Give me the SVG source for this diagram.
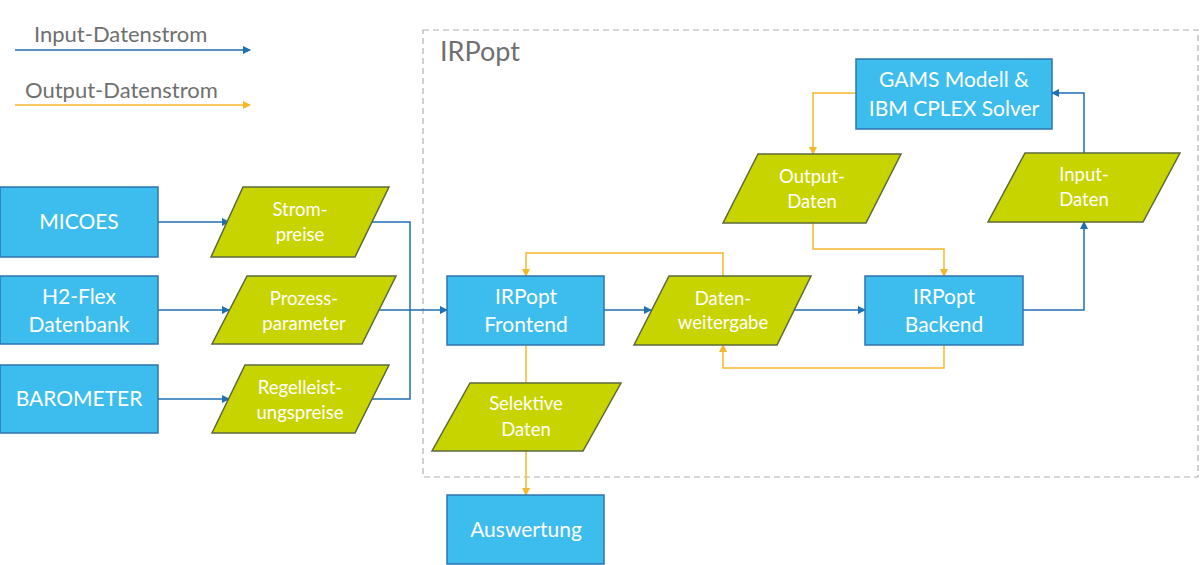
<svg xmlns="http://www.w3.org/2000/svg" width="1200" height="565" viewBox="0 0 1200 565">
<style>
text{font-family:Lato,"Noto Sans","Liberation Sans",sans-serif;text-anchor:middle}
.box{fill:#3dbdee;stroke:#2f74b0;stroke-width:1.5}
.par{fill:#c8d400;stroke:#5b6a3a;stroke-width:1.5}
.bt{fill:#ffffff;font-size:21px}
.pt{fill:#ffffff;font-size:18.5px}
.lg{fill:#707070;font-size:22px;text-anchor:start}
.in{fill:none;stroke:#1f6fb5;stroke-width:1.5;marker-end:url(#ab)}
.inn{fill:none;stroke:#1f6fb5;stroke-width:1.5}
.out{fill:none;stroke:#f6b82a;stroke-width:1.5;marker-end:url(#ao)}
.outn{fill:none;stroke:#f6b82a;stroke-width:1.5}
</style>
<defs>
<marker id="ab" markerWidth="8" markerHeight="8" refX="7" refY="4" orient="auto" markerUnits="userSpaceOnUse"><path d="M0,0 L8,4 L0,8 z" fill="#1f6fb5"/></marker>
<marker id="ao" markerWidth="8" markerHeight="8" refX="7" refY="4" orient="auto" markerUnits="userSpaceOnUse"><path d="M0,0 L8,4 L0,8 z" fill="#f6b82a"/></marker>
</defs>
<rect width="1200" height="565" fill="#ffffff"/>
<g id="legend">
<text class="lg" x="34" y="42">Input-Datenstrom</text>
<line class="in" x1="15" y1="50" x2="250" y2="50"/>
<text class="lg" x="25" y="98">Output-Datenstrom</text>
<line class="out" x1="15" y1="105" x2="250" y2="105"/>
</g>
<g id="irpopt-frame">
<rect x="423" y="30" width="775" height="447" fill="none" stroke="#b0b0b0" stroke-width="1.2" stroke-dasharray="6,4"/>
<text x="440" y="61" style="fill:#707070;font-size:27px;text-anchor:start">IRPopt</text>
</g>
<g id="connectors">
<line class="in" x1="158" y1="222" x2="229" y2="222"/>
<line class="in" x1="158" y1="310" x2="229" y2="310"/>
<line class="in" x1="158" y1="399" x2="229" y2="399"/>
<polyline class="inn" points="372,222 410,222 410,310"/>
<polyline class="inn" points="372,399 410,399 410,310"/>
<line class="in" x1="378" y1="310" x2="447" y2="310"/>
<line class="in" x1="604" y1="310" x2="651" y2="310"/>
<line class="in" x1="794" y1="310" x2="865" y2="310"/>
<polyline class="in" points="1023,310 1084,310 1084,222"/>
<polyline class="in" points="1084,153 1084,93 1052,93"/>
<polyline class="out" points="856,93 813,93 813,154"/>
<polyline class="out" points="813,223 813,249 944,249 944,276"/>
<polyline class="out" points="723,276 723,253 526,253 526,276"/>
<polyline class="out" points="944,345 944,368 723,368 723,345"/>
<line class="outn" x1="526" y1="345" x2="526" y2="383"/>
<line class="out" x1="526" y1="451" x2="526" y2="495"/>
</g>
<g id="micoes">
<rect class="box" x="0" y="187" width="158" height="70"/>
<text class="bt" x="79" y="229">MICOES</text>
</g>
<g id="h2flex">
<rect class="box" x="0" y="276" width="158" height="68"/>
<text class="bt" x="79" y="304">H2-Flex</text>
<text class="bt" x="79" y="332">Datenbank</text>
</g>
<g id="barometer">
<rect class="box" x="0" y="365" width="158" height="68"/>
<text class="bt" x="79" y="406">BAROMETER</text>
</g>
<g id="strompreise">
<polygon class="par" points="243,187 389,187 355,257 211,257"/>
<text class="pt" x="300" y="216">Strom-</text>
<text class="pt" x="300" y="241">preise</text>
</g>
<g id="prozessparameter">
<polygon class="par" points="247,276 396,276 362,344 212,344"/>
<text class="pt" x="304" y="305">Prozess-</text>
<text class="pt" x="304" y="330">parameter</text>
</g>
<g id="regelleistungspreise">
<polygon class="par" points="245,365 389,365 355,433 212,433"/>
<text class="pt" x="300" y="394">Regelleist-</text>
<text class="pt" x="300" y="419">ungspreise</text>
</g>
<g id="frontend">
<rect class="box" x="447" y="276" width="157" height="69"/>
<text class="bt" x="526" y="304">IRPopt</text>
<text class="bt" x="526" y="332">Frontend</text>
</g>
<g id="datenweitergabe">
<polygon class="par" points="669,276 811,276 777,345 634,345"/>
<text class="pt" x="723" y="305">Daten-</text>
<text class="pt" x="723" y="329">weitergabe</text>
</g>
<g id="backend">
<rect class="box" x="865" y="276" width="158" height="69"/>
<text class="bt" x="944" y="304">IRPopt</text>
<text class="bt" x="944" y="332">Backend</text>
</g>
<g id="selektive">
<polygon class="par" points="470,383 621,383 583,451 432,451"/>
<text class="pt" x="526" y="410">Selektive</text>
<text class="pt" x="526" y="436">Daten</text>
</g>
<g id="auswertung">
<rect class="box" x="447" y="495" width="157" height="69"/>
<text class="bt" x="526" y="537">Auswertung</text>
</g>
<g id="gams">
<rect class="box" x="856" y="59" width="196" height="70"/>
<text class="bt" x="954" y="87">GAMS Modell &amp;</text>
<text class="bt" x="954" y="116">IBM CPLEX Solver</text>
</g>
<g id="outputdaten">
<polygon class="par" points="758,154 901,154 866,223 723,223"/>
<text class="pt" x="812" y="183">Output-</text>
<text class="pt" x="812" y="208">Daten</text>
</g>
<g id="inputdaten">
<polygon class="par" points="1025,153 1180,153 1143,222 988,222"/>
<text class="pt" x="1084" y="181">Input-</text>
<text class="pt" x="1084" y="206">Daten</text>
</g>
</svg>
